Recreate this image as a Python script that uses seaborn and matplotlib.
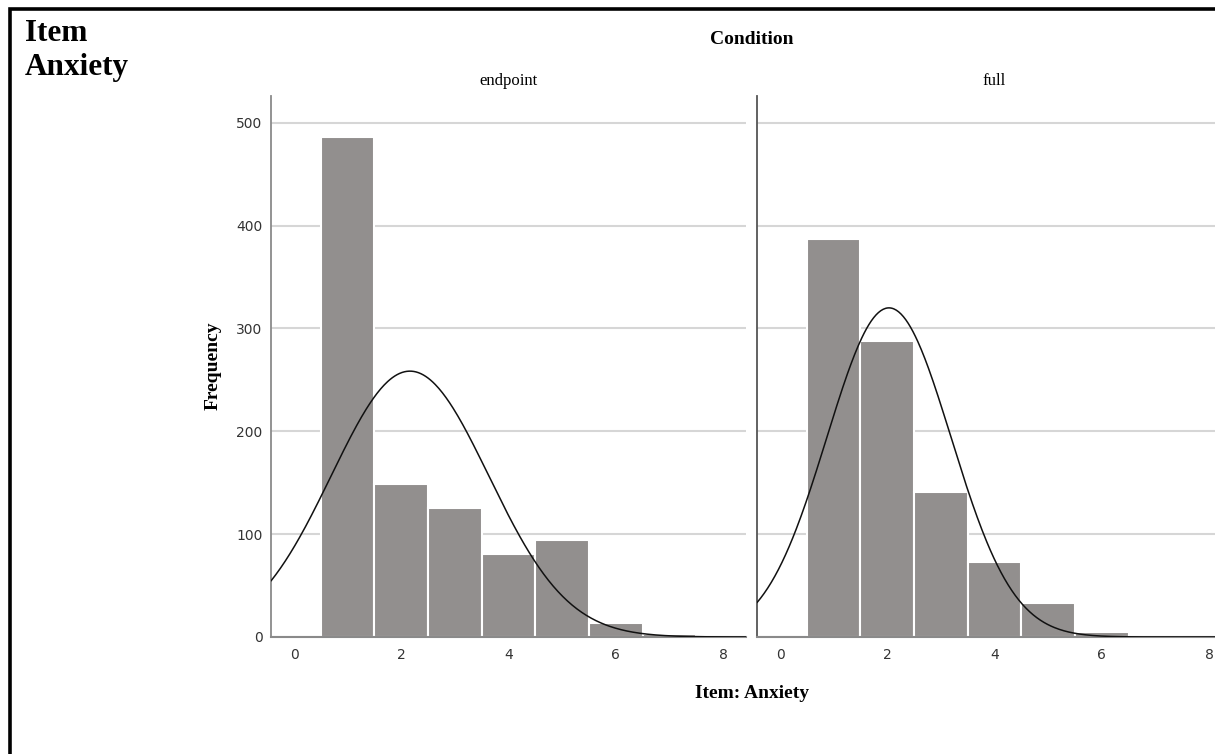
import numpy as np
import pandas as pd
import seaborn as sb
import matplotlib.pyplot as plt
from matplotlib.patches import Rectangle

# Werte
conditions = ["endpoint", "full"]
anxiety_levels = [1, 2, 3, 4, 5, 6, 7]
counts_endpoint = [486, 149, 125, 81, 94, 14, 3]
counts_full = [387, 288, 141, 73, 33, 5, 2]
y_ticks = [0, 100, 200, 300, 400, 500]
x_ticks = [0, 2, 4, 6, 8]

data = pd.DataFrame({
    "Condition": np.repeat(conditions, len(anxiety_levels)),
    "Anxiety": anxiety_levels * 2,
    "Count": counts_endpoint + counts_full,
})

sb.set_theme(style = "white")
plt.rcParams["font.family"] = ["DejaVu Sans"]
plt.rcParams["text.color"] = "black"

W, H = 1215, 754
fig = plt.figure(figsize = (W / 100, H / 100), dpi = 100)

serif = ["Liberation Serif", "DejaVu Serif"]
bar_color = "#928f8e"
x_lim = (-0.43, 8.43)
y_lim = (0, 526)

def px_box(left, top, width, height):
    return [left / W, 1 - (top + height) / H, width / W, height / H]

axes = [fig.add_axes(px_box(271, 96, 475, 541)), fig.add_axes(px_box(757, 96, 475, 541))]

for ax, cond in zip(axes, conditions):
    sub = data[data["Condition"] == cond]
    sb.histplot(data = sub, x = "Anxiety", weights = "Count", discrete = True, ax = ax,
                color = bar_color, edgecolor = "white", linewidth = 1.5, alpha = 1, zorder = 2)

    # Normalverteilungskurve aus den Haeufigkeiten
    n = sub["Count"].sum()
    mean = (sub["Anxiety"] * sub["Count"]).sum() / n
    sd = np.sqrt((sub["Count"] * (sub["Anxiety"] - mean) ** 2).sum() / n)
    xs = np.linspace(x_lim[0], x_lim[1], 400)
    ys = n / (sd * np.sqrt(2 * np.pi)) * np.exp(-0.5 * ((xs - mean) / sd) ** 2)
    ax.plot(xs, ys, color = "#111111", linewidth = 1.1, zorder = 3)

    ax.set_xlim(x_lim)
    ax.set_ylim(y_lim)
    ax.set_xticks(x_ticks)
    ax.set_yticks(y_ticks)
    ax.yaxis.grid(True, color = "#d6d6d6", linewidth = 1.5, zorder = 0)
    ax.set_axisbelow(True)
    ax.tick_params(length = 0, labelsize = 10, labelcolor = "#333333")
    ax.tick_params(axis = "x", pad = 8)
    ax.tick_params(axis = "y", pad = 6)
    ax.set_xlabel("")
    ax.set_ylabel("")
    ax.set_title(cond, family = serif, fontsize = 12, pad = 8, color = "black")
    for side in ["top", "right"]:
        ax.spines[side].set_visible(False)
    ax.spines["left"].set_color("#8a8a8a")
    ax.spines["bottom"].set_color("#8a8a8a")
    ax.spines["left"].set_linewidth(1.3)
    ax.spines["bottom"].set_linewidth(1.5)

axes[1].tick_params(axis = "y", labelleft = False)
axes[1].spines["left"].set_color("#555555")

fig.text(752 / W, 1 - 40 / H, "Condition", family = serif, fontsize = 14, fontweight = "bold",
         ha = "center", va = "center")
fig.text(752 / W, 1 - 693 / H, "Item: Anxiety", family = serif, fontsize = 14, fontweight = "bold",
         ha = "center", va = "center")
fig.text(213 / W, 1 - 366 / H, "Frequency", family = serif, fontsize = 14, fontweight = "bold",
         ha = "center", va = "center", rotation = 90)
fig.text(25 / W, 1 - 19 / H, "Item\nAnxiety", family = serif, fontsize = 22.5, fontweight = "bold",
         ha = "left", va = "top", linespacing = 1.22)

# Rahmen (rechts und unten abgeschnitten)
fig.add_artist(Rectangle((10.5 / W, -0.1), 1.2, 1.1 - 9.5 / H, transform = fig.transFigure,
                         fill = False, edgecolor = "black", linewidth = 2.6))

fig.savefig("out.png", dpi = 100)
